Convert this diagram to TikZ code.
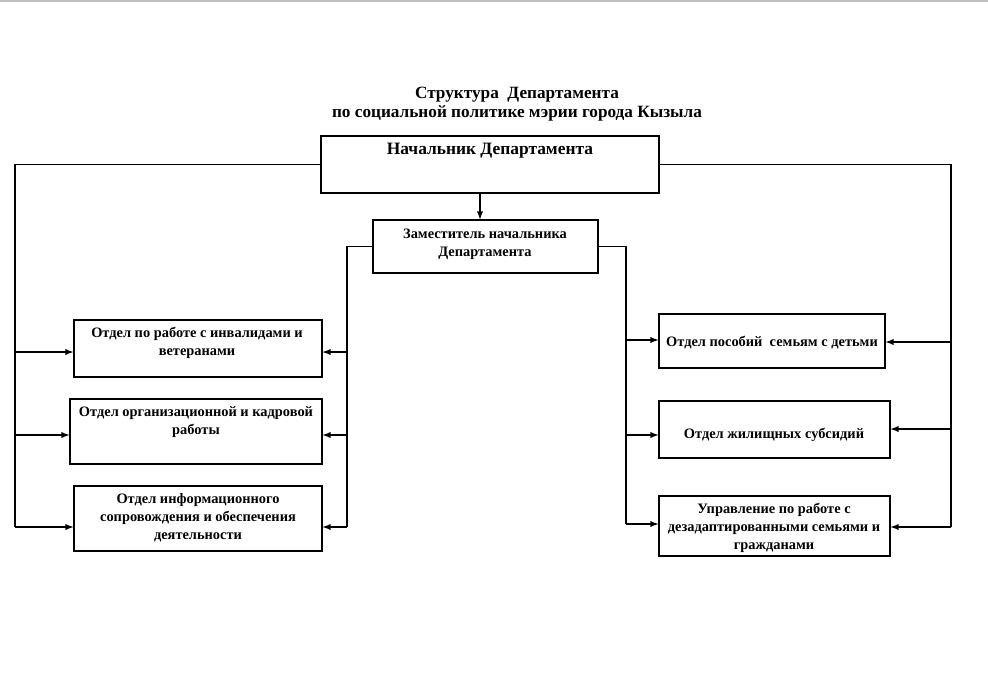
\documentclass[tikz,border=0pt]{standalone}
\usepackage{fontspec}
\setmainfont{Liberation Serif}
\usetikzlibrary{fit}

\tikzset{
  box/.style={draw, line width=0.6pt, inner sep=0pt},
  txt/.style={inner sep=0pt, align=center, font=\bfseries\fontsize{8.2}{10.2}\selectfont},
}

\begin{document}
\begin{tikzpicture}[x=0.02cm, y=-0.02cm, line width=0.6pt, >=latex]
        \useasboundingbox (0,0) rectangle (988,700);
        \draw[gray!50, line width=1.2pt] (0,1) -- (988,1);

        % ==========================================
        % 1. TITOLO E CAPO DEL DIPARTIMENTO
        % ==========================================
        \node[txt, font=\bfseries\fontsize{9.8}{10.4}\selectfont] (title) at (517,104) {Структура\ \ Департамента\\по социальной политике мэрии города Кызыла};

        \node[box, fit={(321,136) (659,193)}] (head) {};
        \node[txt, font=\bfseries\fontsize{9.9}{12}\selectfont] (headtxt) at (490,151) {Начальник Департамента};

        % Vice capo
        \node[box, fit={(373,220) (598,273)}] (dep) {};
        \node[txt] (deptxt) at (485,244) {Заместитель начальника\\Департамента};

        \coordinate (arr) at (480,193);
        \draw[->] (arr) -- (arr |- dep.north);

        % ==========================================
        % 2. BLOCCHI A SINISTRA
        % ==========================================
        \node[box, fit={(74,320) (322,377)}] (inv) {};
        \node[txt] (invtxt) at (197,343) {Отдел по работе с инвалидами и\\ветеранами};

        \node[box, fit={(70,399) (322,464)}] (kadr) {};
        \node[txt] (kadrtxt) at (196,422) {Отдел организационной и кадровой\\работы};

        \node[box, fit={(74,486) (322,551)}] (info) {};
        \node[txt] (infotxt) at (198,518) {Отдел информационного\\сопровождения и обеспечения\\деятельности};

        % ==========================================
        % 3. BLOCCHI A DESTRA
        % ==========================================
        \node[box, fit={(659,314) (885,368)}] (posob) {};
        \node[txt] (posobtxt) at (772,343) {Отдел пособий\ \ семьям с детьми};

        \node[box, fit={(659,401) (890,458)}] (subs) {};
        \node[txt] (substxt) at (774,435) {Отдел жилищных\ субсидий};

        \node[box, fit={(659,496) (890,556)}] (uprav) {};
        \node[txt] (upravtxt) at (774,528) {Управление по работе с\\дезадаптированными семьями и\\гражданами};

        % ==========================================
        % 4. LINEE DAL CAPO (esterne)
        % ==========================================
        \coordinate (lb1) at (15,352);
        \coordinate (lb2) at (15,435);
        \coordinate (lb3) at (15,527);
        \draw (head.west) -| (lb3);
        \draw[->] (lb1) -- (lb1 -| inv.west);
        \draw[->] (lb2) -- (lb2 -| kadr.west);
        \draw[->] (lb3) -- (lb3 -| info.west);

        \coordinate (rb1) at (951,342);
        \coordinate (rb2) at (951,429);
        \coordinate (rb3) at (951,527);
        \draw (head.east) -| (rb3);
        \draw[->] (rb1) -- (rb1 -| posob.east);
        \draw[->] (rb2) -- (rb2 -| subs.east);
        \draw[->] (rb3) -- (rb3 -| uprav.east);

        % ==========================================
        % 5. LINEE DAL VICE (interne)
        % ==========================================
        \coordinate (dl1) at (347,352);
        \coordinate (dl2) at (347,435);
        \coordinate (dl3) at (347,527);
        \draw (dep.west) -| (dl3);
        \draw[->] (dl1) -- (dl1 -| inv.east);
        \draw[->] (dl2) -- (dl2 -| kadr.east);
        \draw[->] (dl3) -- (dl3 -| info.east);

        \coordinate (dr1) at (626,340);
        \coordinate (dr2) at (626,435);
        \coordinate (dr3) at (626,524);
        \draw (dep.east) -| (dr3);
        \draw[->] (dr1) -- (dr1 -| posob.west);
        \draw[->] (dr2) -- (dr2 -| subs.west);
        \draw[->] (dr3) -- (dr3 -| uprav.west);

    \end{tikzpicture}
\end{document}
